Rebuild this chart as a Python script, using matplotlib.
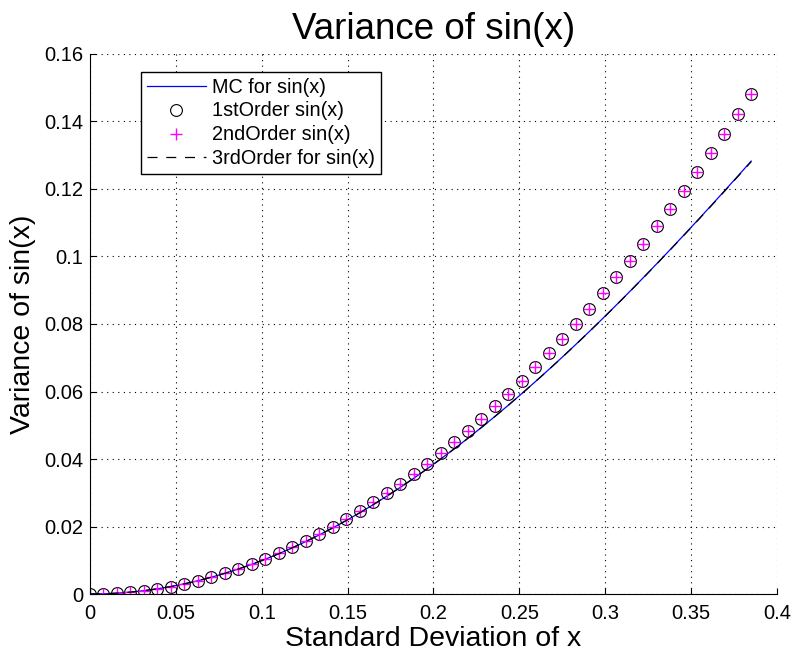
import matplotlib
matplotlib.use('Agg')
import matplotlib.pyplot as plt

plt.rcParams['font.family'] = ['Liberation Sans', 'DejaVu Sans']

# standard deviation of x (50 samples, 0 .. 0.385)
sd = [0.385 * i / 49 for i in range(50)]

mc_var = [0.0, 0.00006, 0.00025, 0.00056, 0.00099, 0.00154, 0.00222, 0.00302,
          0.00394, 0.00498, 0.00614, 0.00741, 0.00881, 0.01033, 0.01196, 0.01370,
          0.01556, 0.01753, 0.01961, 0.02180, 0.02409, 0.02650, 0.02901, 0.03161,
          0.03433, 0.03713, 0.04004, 0.04304, 0.04613, 0.04932, 0.05259, 0.05594,
          0.05938, 0.06291, 0.06651, 0.07018, 0.07394, 0.07776, 0.08165, 0.08561,
          0.08963, 0.09372, 0.09786, 0.10206, 0.10631, 0.11061, 0.11496, 0.11936,
          0.12380, 0.12826]

first_var = [0.0, 0.00006, 0.00025, 0.00056, 0.00099, 0.00154, 0.00222, 0.00303,
             0.00395, 0.00500, 0.00617, 0.00747, 0.00889, 0.01043, 0.01210, 0.01389,
             0.01580, 0.01784, 0.02000, 0.02229, 0.02469, 0.02723, 0.02988, 0.03266,
             0.03556, 0.03858, 0.04173, 0.04501, 0.04840, 0.05192, 0.05556, 0.05933,
             0.06322, 0.06723, 0.07137, 0.07563, 0.08001, 0.08452, 0.08915, 0.09390,
             0.09878, 0.10378, 0.10890, 0.11415, 0.11952, 0.12501, 0.13063, 0.13637,
             0.14224, 0.14823]

second_var = list(first_var)

third_var = [0.0, 0.00006, 0.00025, 0.00056, 0.00099, 0.00154, 0.00222, 0.00302,
             0.00394, 0.00498, 0.00614, 0.00741, 0.00881, 0.01033, 0.01196, 0.01370,
             0.01556, 0.01753, 0.01961, 0.02180, 0.02409, 0.02650, 0.02901, 0.03161,
             0.03432, 0.03713, 0.04003, 0.04303, 0.04612, 0.04931, 0.05258, 0.05593,
             0.05937, 0.06289, 0.06649, 0.07016, 0.07391, 0.07773, 0.08161, 0.08556,
             0.08958, 0.09366, 0.09779, 0.10198, 0.10622, 0.11051, 0.11485, 0.11923,
             0.12365, 0.12810]

xticks = [0, 0.05, 0.1, 0.15, 0.2, 0.25, 0.3, 0.35, 0.4]
xtick_labels = ['0', '0.05', '0.1', '0.15', '0.2', '0.25', '0.3', '0.35', '0.4']
yticks = [0, 0.02, 0.04, 0.06, 0.08, 0.1, 0.12, 0.14, 0.16]
ytick_labels = ['0', '0.02', '0.04', '0.06', '0.08', '0.1', '0.12', '0.14', '0.16']

fig = plt.figure(figsize=(7.93, 6.56), dpi=100)
ax = fig.add_axes([0.1135, 0.0945, 0.8663, 0.8232])

ax.plot(sd, mc_var, color='#0000ff', linewidth=0.9, label='MC for sin(x)')
ax.plot(sd, first_var, linestyle='none', marker='o', markersize=8.5,
        markerfacecolor='none', markeredgecolor='black', markeredgewidth=0.8,
        label='1stOrder sin(x)')
ax.plot(sd, second_var, linestyle='none', marker='+', markersize=8,
        color='#ff00ff', markeredgewidth=1.0, label='2ndOrder sin(x)')
ax.plot(sd, third_var, color='black', linestyle=(0, (8, 7)), linewidth=0.9,
        label='3rdOrder for sin(x)')

ax.set_xlim(0, 0.4)
ax.set_ylim(0, 0.16)
ax.set_xticks(xticks)
ax.set_xticklabels(xtick_labels)
ax.set_yticks(yticks)
ax.set_yticklabels(ytick_labels)
ax.tick_params(direction='in', labelsize=14.5, length=4)
ax.tick_params(axis='x', pad=7)
ax.tick_params(axis='y', pad=5)

ax.grid(True, linestyle=(0, (1, 4)), color='black', linewidth=0.8)
ax.spines['top'].set_visible(False)
ax.spines['right'].set_visible(False)

ax.set_title('Variance of sin(x)', fontsize=26.5, pad=11)
ax.set_xlabel('Standard Deviation of x', fontsize=20.5, labelpad=2)
ax.set_ylabel('Variance of sin(x)', fontsize=20.5, labelpad=6)

leg = ax.legend(loc='upper left', bbox_to_anchor=(0.0742, 0.9667), borderaxespad=0,
                fontsize=14.3, fancybox=False, edgecolor='black', framealpha=1,
                handlelength=3.0, labelspacing=0.25, borderpad=0.28, handletextpad=0.3)
leg.get_frame().set_linewidth(1.0)

fig.savefig('out.png', dpi=100)
